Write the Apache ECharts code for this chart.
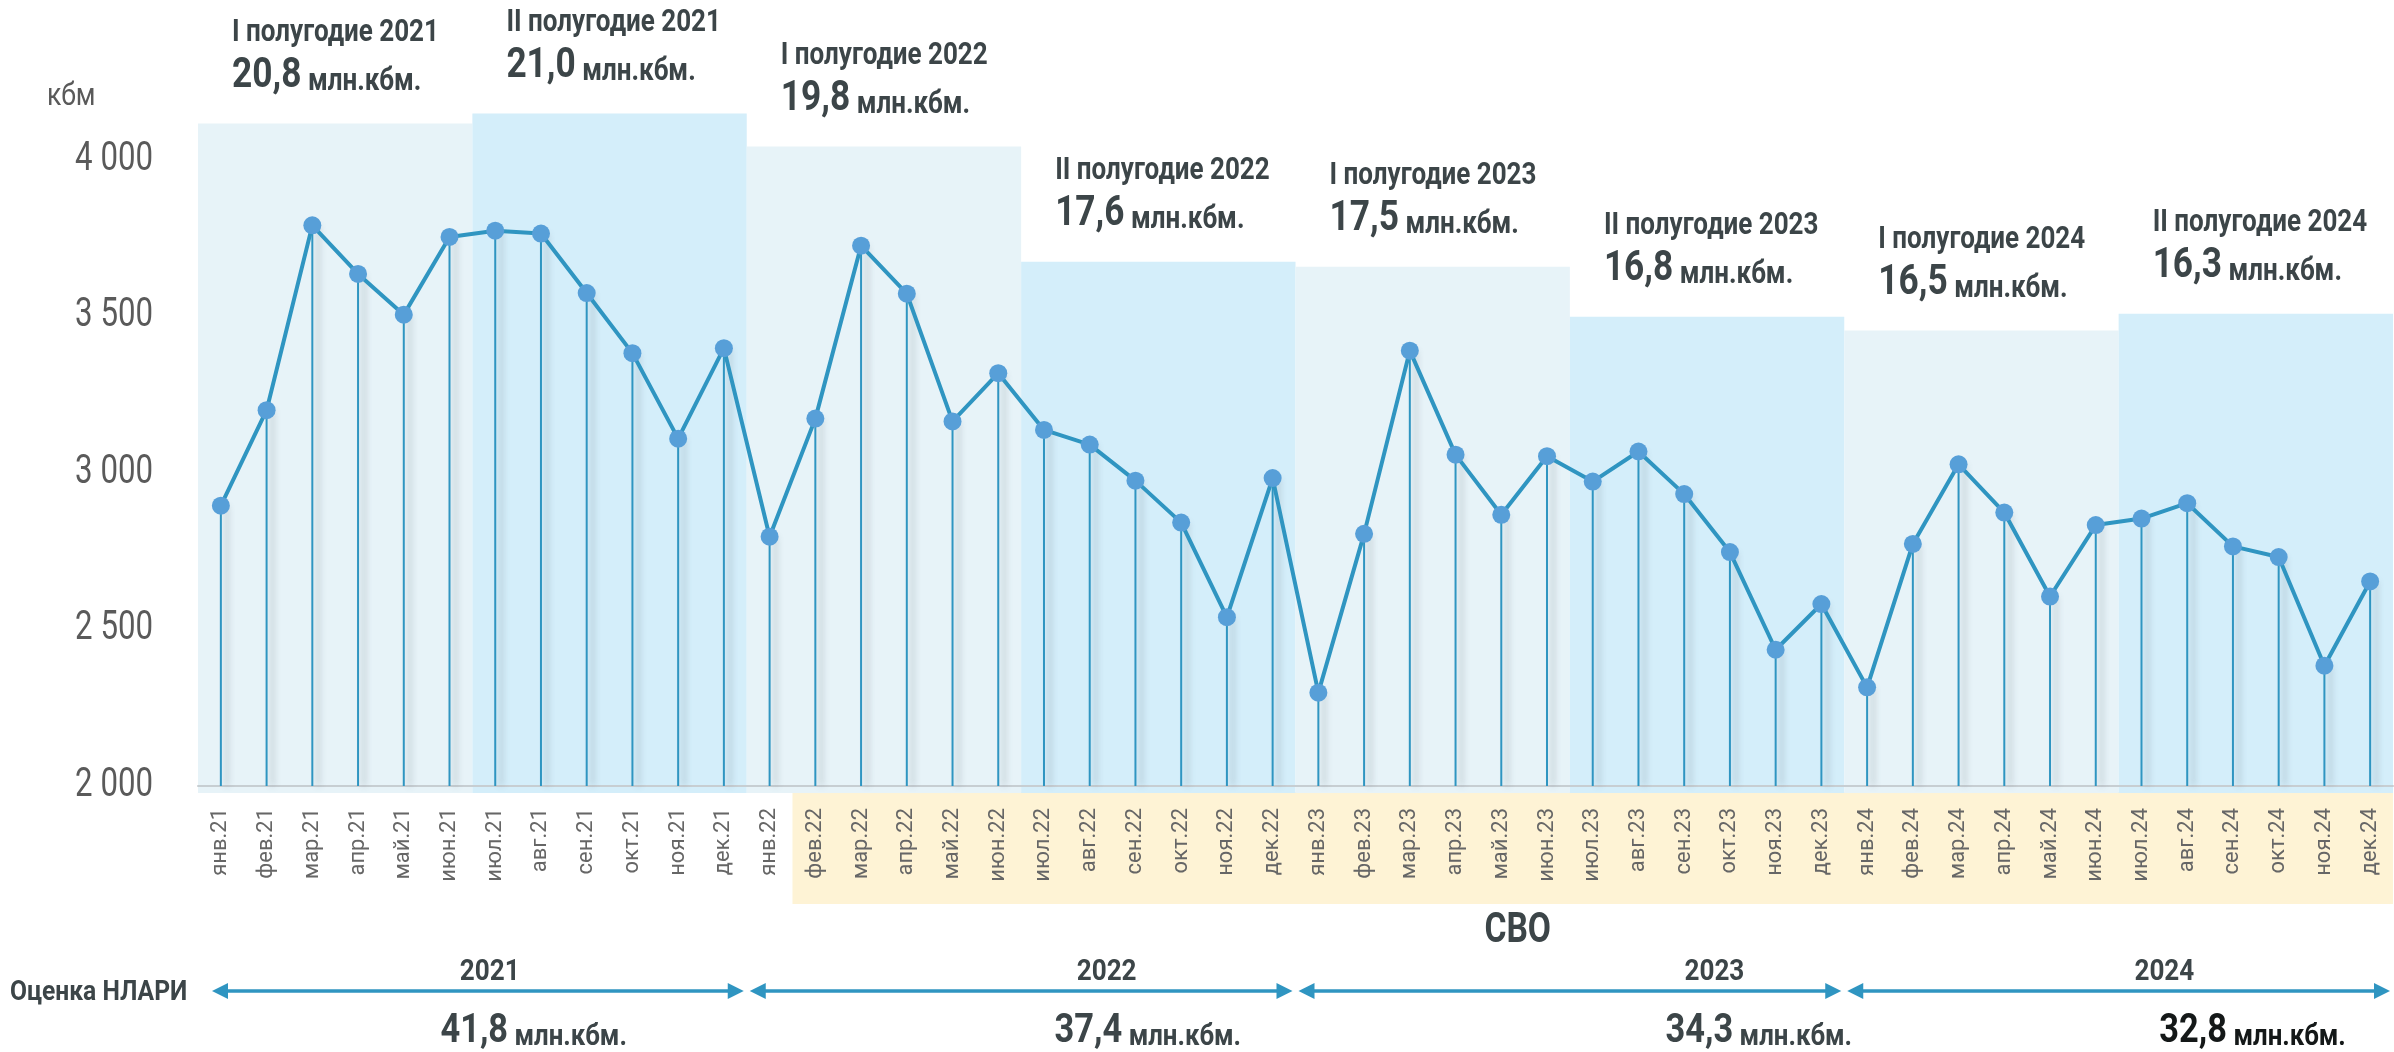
<!DOCTYPE html>
<html>
<head>
<meta charset="utf-8">
<script src="https://cdn.jsdelivr.net/npm/echarts@6/dist/echarts.min.js"></script>
<style>
  html, body { margin: 0; padding: 0; background: #fff; }
  #chart { width: 2394px; height: 1052px; }
</style>
</head>
<body>
<div id="chart"></div>
<script>
// ---- data ----
const months = [
  'янв.21', 'фев.21', 'мар.21', 'апр.21', 'май.21', 'июн.21', 'июл.21', 'авг.21', 'сен.21', 'окт.21', 'ноя.21', 'дек.21',
  'янв.22', 'фев.22', 'мар.22', 'апр.22', 'май.22', 'июн.22', 'июл.22', 'авг.22', 'сен.22', 'окт.22', 'ноя.22', 'дек.22',
  'янв.23', 'фев.23', 'мар.23', 'апр.23', 'май.23', 'июн.23', 'июл.23', 'авг.23', 'сен.23', 'окт.23', 'ноя.23', 'дек.23',
  'янв.24', 'фев.24', 'мар.24', 'апр.24', 'май.24', 'июн.24', 'июл.24', 'авг.24', 'сен.24', 'окт.24', 'ноя.24', 'дек.24'
]
const volumes = [
  2895, 3200, 3790, 3635, 3505, 3753, 3773, 3764, 3574, 3382, 3109, 3398,
  2796, 3173, 3725, 3572, 3164, 3318, 3137, 3090, 2975, 2841, 2539, 2983,
  2298, 2805, 3390, 3058, 2866, 3053, 2972, 3068, 2932, 2747, 2435, 2581,
  2315, 2773, 3027, 2873, 2605, 2833, 2854, 2903, 2765, 2731, 2384, 2653
]
const yTicks = [2000, 2500, 3000, 3500, 4000]
const halfNames = [
  'I полугодие 2021', 'II полугодие 2021', 'I полугодие 2022', 'II полугодие 2022',
  'I полугодие 2023', 'II полугодие 2023', 'I полугодие 2024', 'II полугодие 2024'
]
const halfTotals = ['20,8', '21,0', '19,8', '17,6', '17,5', '16,8', '16,5', '16,3']
// height of the background block of each half-year, in axis units (кбм)
const halfBlockTop = [4115, 4147, 4042, 3674, 3658, 3498, 3454, 3508]
const years = ['2021', '2022', '2023', '2024']
const yearTotals = ['41,8', '37,4', '34,3', '32,8']
const svoFrom = 'фев.22'
const svoTo = 'дек.24'

// ---- layout (category offsets of the annotations below the axis) ----
const yearLabelAt = [5.88, 19.37, 32.66, 42.5]
const yearTotalAt = [6.84, 20.27, 33.63, 44.43]
const svoLabelAt = 28.36

// no narrow font installed: Roboto squeezed horizontally instead
const FONT = 'Roboto'
const TXT = '#3c4548'
const LINE = '#2f95c1'

const chart = echarts.init( document.getElementById( 'chart' ) )

function renderBlocks( params, api ) {
  const i = params.dataIndex
  const top = api.coord( [api.value( 0 ), api.value( 2 )] )
  const bot = api.coord( [api.value( 1 ), 2000] )
  const bw = api.size( [1, 0] )[0]
  const x0 = top[0] - bw / 2
  const x1 = bot[0] + bw / 2
  return {
    type : 'group',
    children : [
      {
        type : 'rect',
        shape : { x : x0, y : top[1], width : x1 - x0, height : bot[1] - top[1] + 7 },
        style : { fill : i % 2 ? '#d4eefa' : '#e7f3f8' }
      },
      {
        type : 'text',
        x : x0 + 34,
        y : top[1] - 113,
        scaleX : 0.84,
        style : {
          text : '{p|' + halfNames[i] + '}\n{v|' + halfTotals[i] + '}{u| млн.кбм.}',
          align : 'left',
          verticalAlign : 'top',
          rich : {
            p : { fontFamily : FONT, fontWeight : 'bold', fontSize : 31, lineHeight : 45, fill : TXT },
            v : { fontFamily : FONT, fontWeight : 'bold', fontSize : 42, lineHeight : 42, verticalAlign : 'bottom', fill : TXT },
            u : { fontFamily : FONT, fontWeight : 'bold', fontSize : 31, lineHeight : 31, verticalAlign : 'bottom', fill : TXT }
          }
        }
      }
    ]
  }
}

function renderYTicks( params, api ) {
  const p = api.coord( [0, api.value( 1 )] )
  const bw = api.size( [1, 0] )[0]
  return {
    type : 'text',
    x : p[0] - bw / 2 - 45,
    y : p[1],
    scaleX : 0.78,
    style : {
      text : String( api.value( 1 ) ).replace( /\B(?=(\d{3})+$)/, ' ' ),
      align : 'right', verticalAlign : 'middle',
      fontFamily : FONT, fontSize : 40, fill : '#5a5a5a'
    }
  }
}

function renderSvo( params, api ) {
  const a = api.coord( [api.value( 0 ), 2000] )
  const b = api.coord( [api.value( 1 ), 2000] )
  const c0 = api.coord( [0, 2000] )
  const bw = api.size( [1, 0] )[0]
  return {
    type : 'group',
    children : [
      {
        type : 'rect',
        shape : { x : a[0] - bw / 2, y : a[1] + 6, width : b[0] - a[0] + bw, height : 112 },
        style : { fill : '#fef3d5' }
      },
      {
        type : 'text',
        x : c0[0] + svoLabelAt * bw,
        y : a[1] + 145,
        scaleX : 0.8,
        style : {
          text : 'СВО', align : 'center', verticalAlign : 'middle',
          fontFamily : FONT, fontWeight : 'bold', fontSize : 42, fill : TXT
        }
      }
    ]
  }
}

function renderYears( params, api ) {
  const i = params.dataIndex
  const a = api.coord( [api.value( 0 ), 2000] )
  const b = api.coord( [api.value( 1 ), 2000] )
  const c0 = api.coord( [0, 2000] )
  const bw = api.size( [1, 0] )[0]
  const xl = a[0] - bw / 2 + ( i === 0 ? 14 : 3 )
  const xr = b[0] + bw / 2 - 3
  const y = a[1] + 205
  const col = i === years.length - 1 ? '#141818' : TXT
  return {
    type : 'group',
    children : [
      { type : 'line', shape : { x1 : xl + 8, y1 : y, x2 : xr - 8, y2 : y }, style : { stroke : LINE, lineWidth : 3.5 } },
      { type : 'polygon', shape : { points : [[xl, y], [xl + 16, y - 8], [xl + 16, y + 8]] }, style : { fill : LINE } },
      { type : 'polygon', shape : { points : [[xr, y], [xr - 16, y - 8], [xr - 16, y + 8]] }, style : { fill : LINE } },
      {
        type : 'text',
        x : c0[0] + yearLabelAt[i] * bw,
        y : a[1] + 187,
        scaleX : 0.9,
        style : {
          text : years[i], align : 'center', verticalAlign : 'middle',
          fontFamily : FONT, fontWeight : 'bold', fontSize : 29, fill : TXT
        }
      },
      {
        type : 'text',
        x : c0[0] + yearTotalAt[i] * bw,
        y : a[1] + 226,
        scaleX : 0.86,
        style : {
          text : '{v|' + yearTotals[i] + '}{u| млн.кбм.}',
          align : 'center',
          verticalAlign : 'top',
          rich : {
            v : { fontFamily : FONT, fontWeight : 'bold', fontSize : 40, lineHeight : 40, verticalAlign : 'bottom', fill : col },
            u : { fontFamily : FONT, fontWeight : 'bold', fontSize : 30, lineHeight : 30, verticalAlign : 'bottom', fill : col }
          }
        }
      }
    ]
  }
}

chart.setOption( {
  animation : false,
  backgroundColor : '#fff',
  graphic : [
    {
      type : 'text', x : 47, y : 97, scaleX : 0.83,
      style : { text : 'кбм', fontFamily : FONT, fontSize : 32, fill : '#5a5a5a', verticalAlign : 'middle' }
    },
    {
      type : 'text', x : 10, y : 993, scaleX : 0.88,
      style : { text : 'Оценка НЛАРИ', fontFamily : FONT, fontWeight : 'bold', fontSize : 28, fill : TXT, verticalAlign : 'middle' }
    }
  ],
  grid : {
    left : 198,
    right : 1,
    top : 3,
    bottom : 266,
    outerBoundsMode : 'none',
    containLabel : false
  },
  xAxis : {
    type : 'category',
    data : months,
    boundaryGap : true,
    axisTick : { show : false },
    axisLine : { lineStyle : { color : '#c7ced2', width : 2 } },
    axisLabel : {
      interval : 0,
      rotate : 90,
      margin : 22,
      fontFamily : FONT,
      fontSize : 22,
      color : '#666'
    }
  },
  yAxis : {
    type : 'value',
    min : 2000,
    max : 4500,
    interval : 500,
    axisLine : { show : false },
    axisTick : { show : false },
    splitLine : { show : false },
    axisLabel : { show : false }
  },
  series : [
    {
      type : 'custom',
      name : 'blocks',
      z : -1,
      clip : false,
      renderItem : renderBlocks,
      data : halfBlockTop.map( ( t, i ) => [i * 6, i * 6 + 5, t] ),
      silent : true
    },
    {
      type : 'custom',
      name : 'yTicks',
      clip : false,
      renderItem : renderYTicks,
      data : yTicks.map( v => [0, v] ),
      silent : true
    },
    {
      type : 'custom',
      name : 'svo',
      z : -2,
      clip : false,
      renderItem : renderSvo,
      data : [[months.indexOf( svoFrom ), months.indexOf( svoTo )]],
      silent : true
    },
    {
      type : 'custom',
      name : 'years',
      z : 2,
      clip : false,
      renderItem : renderYears,
      data : years.map( ( y, i ) => [i * 12, i * 12 + 11] ),
      silent : true
    },
    {
      type : 'bar',
      name : 'stems',
      barWidth : 2,
      z : 2,
      itemStyle : {
        color : LINE,
        shadowColor : 'rgba(90,105,115,0.45)',
        shadowBlur : 6,
        shadowOffsetX : 6
      },
      data : volumes
    },
    {
      type : 'line',
      name : 'volume',
      z : 3,
      symbol : 'circle',
      symbolSize : 18,
      lineStyle : { color : LINE, width : 4 },
      itemStyle : { color : '#579fd8' },
      data : volumes
    }
  ]
} )
</script>
</body>
</html>
